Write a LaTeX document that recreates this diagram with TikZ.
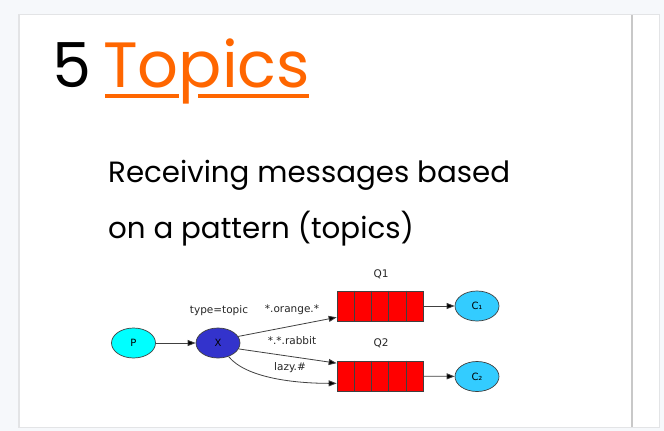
\documentclass[tikz,border=0pt]{standalone}
\usepackage{fontspec}
\setmainfont{Poppins}[Ligatures=NoCommon]
\newfontfamily\diagfont{DejaVu Sans}
\usetikzlibrary{arrows.meta,calc,shapes.geometric}
\definecolor{pagebg}{HTML}{F6F8FB}
\definecolor{cardedge}{HTML}{E3E4E6}
\definecolor{divider}{HTML}{C8C8C8}
\definecolor{titleorange}{HTML}{FF6600}
\definecolor{pfill}{HTML}{00FFFF}
\definecolor{xfill}{HTML}{3333CC}
\definecolor{cfill}{HTML}{33CCFF}
\definecolor{edgegray}{HTML}{404040}
\tikzset{
  bodytext/.style={anchor=base west,inner sep=0pt,font=\fontsize{29.3}{29.3}\selectfont},
  node_ell/.style={ellipse,draw=edgegray,line width=0.7pt,minimum width=44pt,minimum height=30pt,inner sep=0pt,font=\diagfont\fontsize{10}{10}\selectfont},
  queuebox/.style={rectangle,draw=edgegray,line width=0.7pt,fill=red,minimum width=86pt,minimum height=30pt,inner sep=0pt},
  lbl/.style={inner sep=0pt,font=\diagfont\fontsize{10.5}{10.5}\selectfont,text=black!85},
  flow/.style={draw=edgegray,line width=0.8pt,-{Triangle[length=8pt,width=6pt,fill=black]}},
}
\begin{document}
\begin{tikzpicture}[x=1pt,y=-1pt]
\useasboundingbox (0,0) rectangle (664,431);
\fill[pagebg] (0,0) rectangle (664,431);
\fill[cardedge] (18,14) rectangle (660,428);
\fill[white] (19.5,15) rectangle (659,427);
\fill[divider] (631,15) rectangle (633,427);
% title
\node[anchor=base west,inner sep=0pt,font=\fontsize{62}{62}\selectfont] (num) at (52,87) {5};
\node[anchor=base west,inner sep=0pt,font=\fontsize{64}{64}\selectfont,text=titleorange] (title) at (103,87) {Topics};
\fill[titleorange] (105,93.5) rectangle (179,98);
\fill[titleorange] (198,93.5) rectangle (309,98);
% body
\node[bodytext] (l1) at (108,182) {Receiving messages based};
\node[bodytext] (l2) at (108,238) {on a pattern (topics)};
% diagram
\node[node_ell,fill=pfill] (P) at (133.5,343) {P};
\node[node_ell,fill=xfill] (X) at (218,343) {X};
\node[queuebox] (Q1) at (380,306) {};
\node[queuebox] (Q2) at (380,376) {};
\foreach \q in {Q1,Q2}{
  \foreach \i in {1,2,3,4}{
    \draw[edgegray,line width=0.7pt] ($(\q.north west)!\i/5!(\q.north east)$) -- ($(\q.south west)!\i/5!(\q.south east)$);
  }
}
\node[node_ell,fill=cfill] (C1) at (477,306) {C₁};
\node[node_ell,fill=cfill] (C2) at (477,376.5) {C₂};
\node[lbl] (Q1lbl) at (381,274) {Q1};
\node[lbl] (Q2lbl) at (381,343) {Q2};
\node[lbl] (tlbl) at (219,311) {type=topic};
\draw[flow] (P) -- (X);
\draw[flow] (X.18) -- ($(Q1.south west)+(0,-4)$);
\node[lbl] (org) at (292,310) {*.orange.*};
\draw[flow] (X.-16) -- ($(Q2.north west)+(0,2.5)$);
\node[lbl] (rab) at (292,341) {*.*.rabbit};
\draw[flow] (X.-52) .. controls +(18,22) and +(-40,0) .. ($(Q2.south west)+(0,-8)$);
\node[lbl] (lazy) at (290,368) {lazy.\#};
\draw[flow] (Q1) -- (C1);
\draw[flow] (Q2) -- (C2);
\end{tikzpicture}
\end{document}
